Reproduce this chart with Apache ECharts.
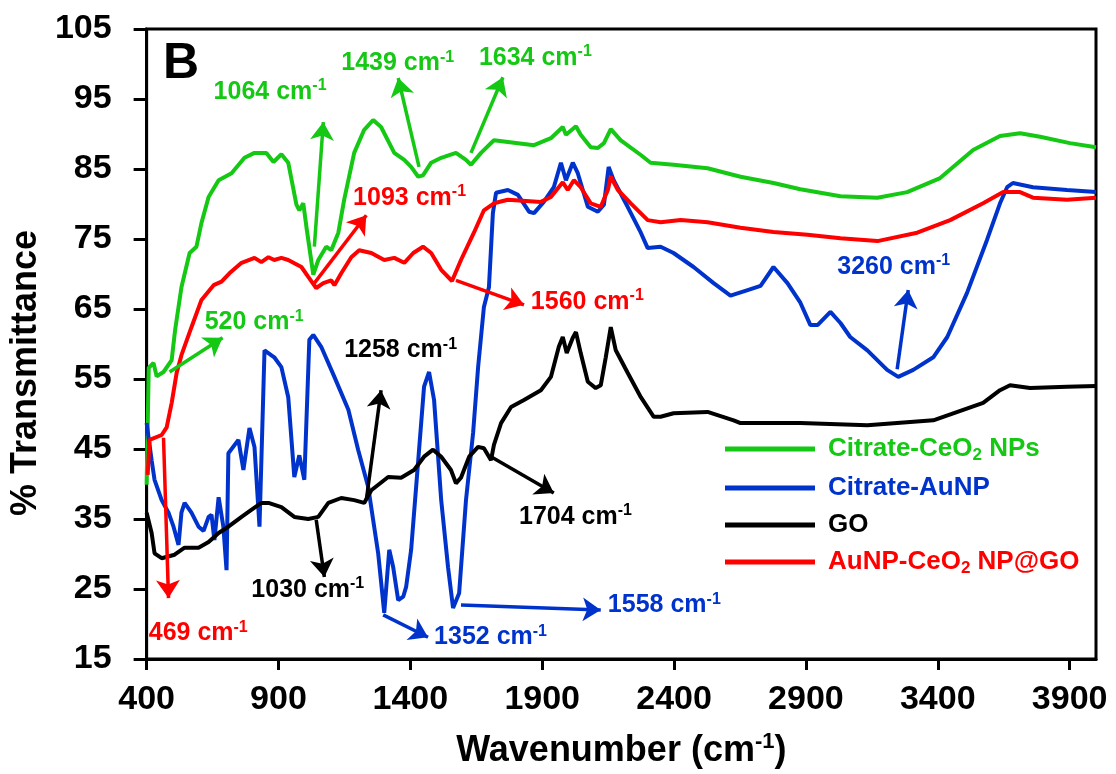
<!DOCTYPE html>
<html>
<head>
<meta charset="utf-8">
<script src="https://cdn.jsdelivr.net/npm/echarts@6/dist/echarts.min.js"></script>
<style>
  html, body { margin: 0; padding: 0; background: #fff; }
  #chart { width: 1116px; height: 774px; }
</style>
</head>
<body>
<div id="chart"></div>
<script>
  const FONT = '"Liberation Sans", Arial, sans-serif'
  const GREEN = '#14c814'
  const BLUE = '#0033cc'
  const BLACK = '#000000'
  const RED = '#ff0000'

  // tick labels
  const xTicks = [400, 900, 1400, 1900, 2400, 2900, 3400, 3900]
  const yTicks = [15, 25, 35, 45, 55, 65, 75, 85, 95, 105]

  // [wavenumber, %T]
  const ceo2 = [
    [400, 39.9], [408, 56.6], [426, 57.3], [438, 55.4], [464, 56.0], [495, 57.7], [508, 62.0],
    [532, 68.1], [563, 73.0], [589, 73.9], [608, 77.3], [635, 81.0], [673, 83.4], [722, 84.4],
    [771, 86.6], [809, 87.3], [854, 87.3], [881, 86.0], [911, 87.1], [937, 85.9], [968, 79.9],
    [979, 79.1], [994, 80.1], [1006, 76.7], [1032, 69.9], [1051, 72.0], [1081, 73.9], [1100, 73.4],
    [1127, 75.9], [1149, 80.6], [1187, 87.3], [1225, 90.6], [1259, 92.0], [1289, 91.0], [1339, 87.3],
    [1377, 86.3], [1403, 85.3], [1430, 83.9], [1448, 84.1], [1479, 85.9], [1517, 86.6], [1573, 87.3],
    [1611, 86.3], [1630, 85.6], [1668, 87.3], [1717, 89.1], [1869, 88.4], [1933, 89.4], [1978, 91.0],
    [1990, 89.9], [2028, 91.1], [2046, 89.9], [2084, 88.1], [2111, 88.0], [2134, 88.7], [2160, 90.7],
    [2198, 89.1], [2274, 87.0], [2311, 85.9], [2398, 85.6], [2527, 85.1], [2652, 83.9], [2777, 83.0],
    [2879, 82.1], [3031, 81.1], [3171, 80.9], [3284, 81.7], [3409, 83.7], [3534, 87.7], [3636, 89.7],
    [3712, 90.1], [3788, 89.6], [3901, 88.7], [4000, 88.1]
  ]

  const aunp = [
    [400, 48.7], [419, 43.4], [430, 40.6], [457, 37.7], [483, 35.9], [502, 33.9], [521, 31.3],
    [532, 35.9], [544, 37.3], [570, 35.9], [597, 33.9], [616, 33.3], [635, 35.3], [646, 35.6],
    [657, 32.0], [673, 38.1], [691, 33.9], [703, 27.7], [710, 44.4], [748, 46.3], [767, 42.0],
    [790, 48.0], [809, 45.3], [828, 33.9], [847, 59.1], [884, 58.1], [911, 56.7], [937, 52.4],
    [960, 41.0], [979, 44.1], [998, 40.6], [1017, 60.6], [1032, 61.3], [1062, 59.6], [1112, 55.3],
    [1165, 50.6], [1202, 44.9], [1240, 39.6], [1278, 30.1], [1301, 21.6], [1320, 30.6], [1335, 28.1],
    [1354, 23.4], [1373, 23.9], [1384, 25.3], [1403, 30.6], [1430, 43.4], [1452, 53.9], [1471, 56.0],
    [1490, 52.0], [1517, 37.7], [1543, 28.1], [1562, 22.3], [1585, 24.4], [1611, 37.7], [1638, 47.3],
    [1657, 56.7], [1679, 65.3], [1698, 68.1], [1713, 78.7], [1725, 81.6], [1770, 82.0], [1808, 81.3],
    [1850, 78.9], [1869, 78.7], [1906, 80.3], [1944, 82.4], [1971, 85.9], [1990, 83.4], [2016, 85.9],
    [2035, 84.4], [2073, 79.6], [2111, 78.9], [2134, 79.9], [2152, 85.3], [2171, 83.4], [2224, 79.6],
    [2274, 75.9], [2300, 73.7], [2349, 73.9], [2398, 73.0], [2474, 71.0], [2550, 68.7], [2614, 66.9],
    [2679, 67.7], [2728, 68.3], [2777, 71.0], [2830, 68.7], [2879, 65.9], [2917, 62.7], [2944, 62.7],
    [2993, 64.6], [3031, 63.0], [3068, 61.0], [3133, 59.1], [3208, 56.3], [3250, 55.3], [3307, 56.3],
    [3383, 58.1], [3436, 61.0], [3511, 67.3], [3587, 74.9], [3636, 80.1], [3663, 82.4], [3685, 83.0],
    [3761, 82.4], [3890, 82.0], [4000, 81.7]
  ]

  const go = [
    [400, 35.9], [419, 33.0], [430, 30.1], [457, 29.4], [506, 29.9], [521, 30.3], [544, 30.9],
    [597, 30.9], [635, 31.7], [673, 33.0], [710, 33.9], [760, 35.3], [797, 36.3], [835, 37.3],
    [862, 37.3], [911, 36.7], [960, 35.3], [1013, 35.0], [1051, 35.3], [1089, 37.3], [1138, 38.0],
    [1187, 37.7], [1225, 37.3], [1252, 39.1], [1316, 41.0], [1365, 40.9], [1414, 42.0], [1452, 43.9],
    [1486, 44.9], [1517, 43.9], [1554, 42.0], [1573, 40.1], [1592, 40.9], [1623, 43.9], [1657, 45.3],
    [1679, 45.1], [1706, 43.4], [1717, 45.6], [1744, 48.7], [1782, 51.0], [1831, 52.0], [1895, 53.4],
    [1933, 55.3], [1963, 59.6], [1978, 61.0], [1993, 58.7], [2016, 60.9], [2028, 61.7], [2046, 58.7],
    [2073, 54.6], [2103, 53.7], [2122, 54.1], [2141, 58.1], [2160, 62.4], [2179, 59.1], [2224, 55.9],
    [2274, 52.4], [2323, 49.6], [2349, 49.6], [2398, 50.1], [2527, 50.3], [2626, 49.1], [2652, 48.7],
    [2879, 48.7], [3133, 48.4], [3383, 49.1], [3572, 51.6], [3636, 53.4], [3674, 54.1], [3750, 53.7],
    [3890, 53.9], [4000, 54.0]
  ]

  const composite = [
    [404, 41.3], [411, 46.3], [457, 47.0], [476, 48.1], [495, 51.6], [514, 55.9], [532, 58.4],
    [570, 62.4], [608, 66.3], [654, 68.4], [684, 68.9], [714, 70.1], [760, 71.6], [809, 72.3],
    [835, 71.7], [862, 72.4], [884, 72.0], [911, 72.3], [937, 72.0], [987, 71.0], [1013, 69.6],
    [1043, 68.0], [1070, 68.7], [1100, 69.1], [1112, 68.4], [1138, 70.1], [1176, 72.4], [1206, 73.4],
    [1252, 73.0], [1301, 72.0], [1339, 72.3], [1377, 71.6], [1411, 73.0], [1448, 73.9], [1479, 73.0],
    [1517, 70.6], [1558, 69.0], [1592, 72.0], [1641, 75.9], [1679, 79.1], [1717, 80.1], [1770, 80.6],
    [1895, 80.3], [1933, 81.0], [1978, 83.1], [1997, 82.0], [2020, 83.4], [2046, 82.4], [2084, 80.1],
    [2122, 79.6], [2149, 82.0], [2160, 83.9], [2187, 82.0], [2236, 80.1], [2300, 77.7], [2349, 77.4],
    [2425, 77.7], [2527, 77.4], [2652, 76.6], [2777, 76.0], [2906, 75.6], [3031, 75.1], [3171, 74.7],
    [3322, 75.9], [3447, 77.7], [3572, 80.1], [3648, 81.7], [3712, 81.7], [3761, 80.9], [3890, 80.6],
    [4000, 80.9]
  ]

  // peak labels: [x, y, wavenumber, colour]
  const notes = [
    [620, 63.1, '520', GREEN], [408, 18.7, '469', RED], [654, 96.0, '1064', GREEN],
    [1138, 100.1, '1439', GREEN], [1660, 100.9, '1634', GREEN], [1183, 80.9, '1093', RED],
    [1857, 66.0, '1560', RED], [1149, 59.1, '1258', BLACK], [797, 24.9, '1030', BLACK],
    [1812, 35.3, '1704', BLACK], [1490, 18.1, '1352', BLUE], [2149, 22.7, '1558', BLUE],
    [3019, 71.0, '3260', BLUE]
  ]

  // arrows: [from, to, colour]
  const arrows = [
    [[487, 56.0], [688, 60.9], GREEN], [[464, 46.6], [483, 23.7], RED],
    [[1036, 73.9], [1070, 91.7], GREEN], [[1433, 85.3], [1354, 98.0], GREEN],
    [[1630, 87.3], [1751, 98.1], GREEN], [[1036, 68.7], [1233, 78.4], RED],
    [[1573, 69.1], [1831, 65.6], RED], [[1233, 37.7], [1289, 53.4], BLACK],
    [[1043, 34.9], [1074, 26.7], BLACK], [[1706, 43.9], [1944, 38.7], BLACK],
    [[1297, 21.3], [1467, 18.1], BLUE], [[1592, 22.7], [2122, 22.0], BLUE],
    [[3246, 56.4], [3288, 67.7], BLUE]
  ]

  const legendText = {
    'Citrate-CeO2 NPs': '{gap|}{g|Citrate-CeO}{gs|2}{g| NPs}',
    'Citrate-AuNP': '{gap|}{b|Citrate-AuNP}',
    'GO': '{gap|}{k|GO}',
    'AuNP-CeO2 NP@GO': '{gap|}{r|AuNP-CeO}{rs|2}{r| NP@GO}'
  }

  function lineSeries(name, color, data) {
    return {
      name: name,
      type: 'line',
      color: color,
      data: data,
      showSymbol: false,
      symbol: 'none',
      lineStyle: { width: 4, color: color },
      z: 3
    }
  }

  function txt(color, size, extra) {
    return Object.assign({
      color: color, fontSize: size, fontWeight: 'bold', fontFamily: FONT,
      opacity: 1, textBorderWidth: 0
    }, extra || {})
  }

  const chart = echarts.init(document.getElementById('chart'))
  chart.setOption({
    animation: false,
    title: {
      text: 'B',
      left: 158,
      top: 34,
      textStyle: { fontSize: 50, fontWeight: 'bold', fontFamily: FONT, color: '#000' }
    },
    grid: {
      left: 145, right: 20, top: 29, bottom: 115,
      show: true, borderColor: '#000', borderWidth: 3
    },
    legend: {
      orient: 'vertical',
      left: 720,
      top: 431,
      icon: 'rect',
      itemWidth: 90,
      itemHeight: 5,
      itemGap: 11,
      selectedMode: false,
      data: ['Citrate-CeO2 NPs', 'Citrate-AuNP', 'GO', 'AuNP-CeO2 NP@GO'],
      formatter: function (name) { return legendText[name] },
      textStyle: {
        fontFamily: FONT,
        fontWeight: 'bold',
        fontSize: 26,
        rich: {
          gap: { width: 8, lineHeight: 30 },
          g: txt(GREEN, 26, { lineHeight: 30 }),
          gs: txt(GREEN, 17, { lineHeight: 30, verticalAlign: 'bottom' }),
          b: txt(BLUE, 26, { lineHeight: 30 }),
          k: txt(BLACK, 26, { lineHeight: 30 }),
          r: txt(RED, 26, { lineHeight: 30 }),
          rs: txt(RED, 17, { lineHeight: 30, verticalAlign: 'bottom' })
        }
      }
    },
    xAxis: {
      type: 'value',
      min: 400,
      max: 4000,
      name: '{a|Wavenumber (cm}{s|-1}{a|)}',
      nameLocation: 'middle',
      nameGap: 72,
      nameTextStyle: {
        rich: {
          a: txt('#000', 36, { lineHeight: 40 }),
          s: txt('#000', 22, { lineHeight: 22, verticalAlign: 'top' })
        }
      },
      axisLine: { show: true, onZero: false, lineStyle: { color: '#000', width: 3 } },
      axisTick: { show: true, length: 11, customValues: xTicks, lineStyle: { color: '#000', width: 3 } },
      axisLabel: {
        customValues: xTicks,
        formatter: function (v) { return String(v) },
        margin: 24,
        fontSize: 34,
        fontWeight: 'bold',
        fontFamily: FONT,
        color: '#000'
      },
      splitLine: { show: false }
    },
    yAxis: {
      type: 'value',
      min: 15,
      max: 105,
      name: '% Transmittance',
      nameLocation: 'middle',
      nameGap: 100,
      nameTextStyle: {
        fontSize: 36, fontWeight: 'bold', fontFamily: FONT, color: '#000',
        padding: [0, 58, 0, 0]
      },
      axisLine: { show: true, onZero: false, lineStyle: { color: '#000', width: 3 } },
      axisTick: { show: true, length: 13, customValues: yTicks, lineStyle: { color: '#000', width: 3 } },
      axisLabel: {
        customValues: yTicks,
        formatter: function (v) { return String(v) },
        margin: 35,
        fontSize: 34,
        fontWeight: 'bold',
        fontFamily: FONT,
        color: '#000'
      },
      splitLine: { show: false }
    },
    series: [
      lineSeries('Citrate-CeO2 NPs', GREEN, ceo2),
      lineSeries('Citrate-AuNP', BLUE, aunp),
      lineSeries('GO', BLACK, go),
      lineSeries('AuNP-CeO2 NP@GO', RED, composite),
      {
        type: 'lines',
        coordinateSystem: 'cartesian2d',
        silent: true,
        symbol: ['none', 'arrow'],
        symbolSize: 18,
        lineStyle: { width: 3.5, opacity: 1, curveness: 0 },
        data: arrows.map(function (a) {
          return { coords: [a[0], a[1]], lineStyle: { color: a[2] } }
        }),
        z: 5
      },
      {
        type: 'scatter',
        silent: true,
        symbolSize: 0,
        emphasis: { disabled: true },
        data: notes.map(function (n) {
          return {
            value: [n[0], n[1]],
            itemStyle: { color: n[3], opacity: 1 },
            label: {
              show: true,
              position: 'right',
              distance: 0,
              color: n[3],
              opacity: 1,
              textBorderWidth: 0,
              formatter: '{n|' + n[2] + ' cm}{s|-1}',
              rich: {
                n: txt(n[3], 25, { lineHeight: 28 }),
                s: txt(n[3], 16, { lineHeight: 16, verticalAlign: 'top' })
              }
            }
          }
        }),
        z: 6
      }
    ]
  })
</script>
</body>
</html>
